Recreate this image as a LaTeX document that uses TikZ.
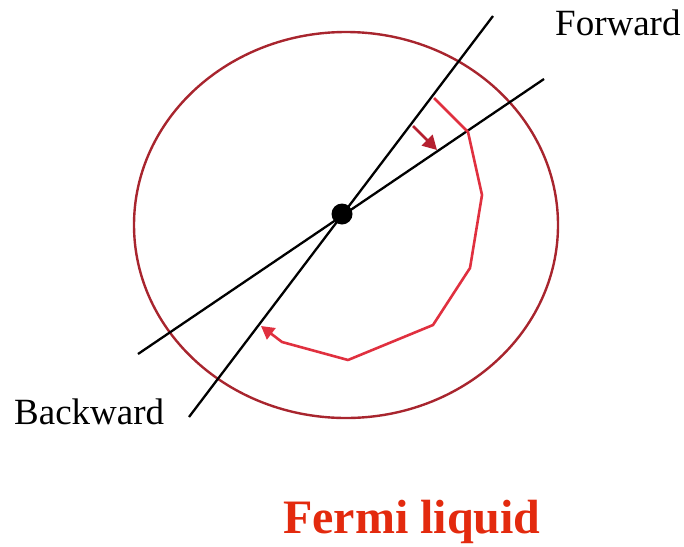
\documentclass[tikz,border=0pt]{standalone}
\usepackage{fontspec}
\setmainfont{Liberation Serif}
\usetikzlibrary{arrows.meta}
\definecolor{ellred}{HTML}{A8252E}
\definecolor{pathred}{HTML}{E0303F}
\definecolor{arrred}{HTML}{B52030}
\definecolor{titlered}{HTML}{E32A0E}
\tikzset{
  blackline/.style={line width=2.3pt, black},
  lbl/.style={font=\fontsize{37}{40}\selectfont, anchor=base west, inner sep=0pt},
}
\begin{document}
\begin{tikzpicture}[x=1pt,y=-1pt]
\useasboundingbox (0,0) rectangle (684,546);
\draw[ellred, line width=2.4pt] (346,225) ellipse [x radius=212, y radius=193];
\coordinate (l1a) at (189,417);
\coordinate (l1b) at (493,16);
\coordinate (l2a) at (138,354);
\coordinate (l2b) at (544,79);
\draw[blackline] (l1a) -- (l1b);
\draw[blackline] (l2a) -- (l2b);
\node[circle, fill=black, minimum size=21pt, inner sep=0pt] (dot) at (342,214) {};
\coordinate (p0) at (434,98);
\coordinate (p1) at (468,132);
\coordinate (p2) at (482,195);
\coordinate (p3) at (470,268);
\coordinate (p4) at (433,325);
\coordinate (p5) at (348,360);
\coordinate (p6) at (282,342);
\coordinate (p7) at (261,326);
\draw[pathred, line width=2.6pt, line join=round, -{Triangle[length=13pt,width=14pt]}]
  (p0) -- (p1) -- (p2) -- (p3) -- (p4) -- (p5) -- (p6) -- (p7);
\coordinate (a0) at (413,126);
\coordinate (a1) at (437,150);
\draw[arrred, line width=2.6pt, -{Triangle[length=14pt,width=15pt]}] (a0) -- (a1);
\node[lbl] (fwd) at (555,35) {Forward};
\node[lbl] (bwd) at (14,424) {Backward};
\node[lbl, font=\fontsize{48}{52}\selectfont\bfseries, text=titlered] (title) at (283,533) {Fermi liquid};
\end{tikzpicture}
\end{document}
